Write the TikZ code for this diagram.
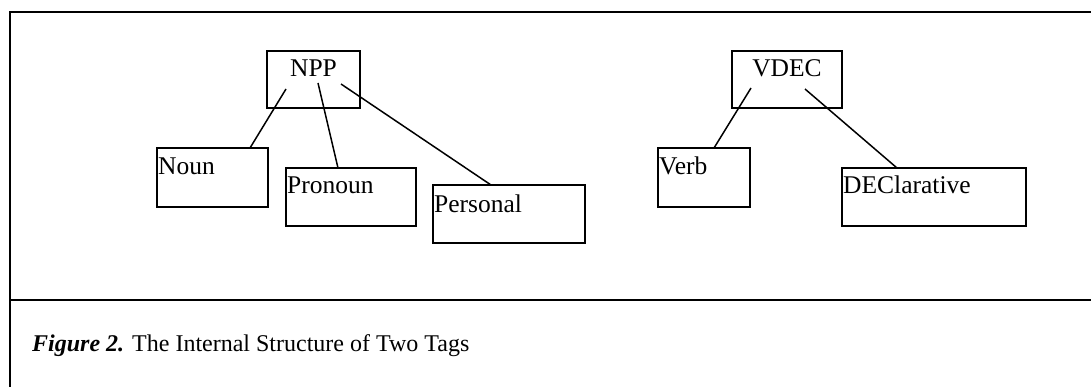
\documentclass[tikz,border=0pt]{standalone}
\usepackage{fontspec}
\setmainfont{Liberation Serif}
\usetikzlibrary{calc}
\begin{document}
\begin{tikzpicture}[x=1pt,y=-1pt,
  tagbox/.style={draw, line width=1.8pt, inner sep=0pt, outer sep=0pt, anchor=north west},
  taglbl/.style={inner sep=0pt, font=\fontsize{25.5}{30}\selectfont},
  caplbl/.style={inner sep=0pt, font=\fontsize{24}{29}\selectfont},
  link/.style={line width=1.5pt},
  frameline/.style={line width=2pt}]
\useasboundingbox (0,0) rectangle (1091,387);
% frame
\coordinate (ftl) at (10,12);
\coordinate (ftr) at (1091,12);
\coordinate (fbl) at (10,387);
\coordinate (fml) at (10,300);
\coordinate (fmr) at (1091,300);
\draw[frameline] (fbl) -- (ftl) -- (ftr);
\draw[frameline] (fml) -- (fmr);
% boxes
\node[tagbox, minimum width=93, minimum height=57] (npp) at (267,51) {};
\node[tagbox, minimum width=111, minimum height=59] (noun) at (157,148) {};
\node[tagbox, minimum width=130, minimum height=58] (pron) at (286,168) {};
\node[tagbox, minimum width=152, minimum height=58] (pers) at (433,185) {};
\node[tagbox, minimum width=110, minimum height=57] (vdec) at (732,51) {};
\node[tagbox, minimum width=92, minimum height=59] (verb) at (658,148) {};
\node[tagbox, minimum width=184, minimum height=58] (decl) at (842,168) {};
% labels
\node[taglbl, anchor=base] (nppl) at ($(npp.north)+(0,26)$) {NPP};
\node[taglbl, anchor=base west] (nounl) at ($(noun.north west)+(1,27)$) {Noun};
\node[taglbl, anchor=base west] (pronl) at ($(pron.north west)+(1,26)$) {Pronoun};
\node[taglbl, anchor=base west] (persl) at ($(pers.north west)+(1,28)$) {Personal};
\node[taglbl, anchor=base] (vdecl) at ($(vdec.north)+(0,26)$) {VDEC};
\node[taglbl, anchor=base west] (verbl) at ($(verb.north west)+(1,27)$) {Verb};
\node[taglbl, anchor=base west] (decll) at ($(decl.north west)+(1,26)$) {DEClarative};
% connectors
\draw[link] ($(npp.north west)+(19,38)$) -- ($(noun.north west)+(93,0)$);
\draw[link] ($(npp.north west)+(51,32)$) -- ($(pron.north west)+(52,0)$);
\draw[link] ($(npp.north west)+(74,33)$) -- ($(pers.north west)+(58,0)$);
\draw[link] ($(vdec.north west)+(19,37)$) -- ($(verb.north west)+(56,0)$);
\draw[link] ($(vdec.north west)+(73,38)$) -- ($(decl.north west)+(55,0)$);
% caption
\node[caplbl, anchor=base west] (cap) at (32,351) {\textbf{\textit{Figure 2.}} The Internal Structure of Two Tags};
\end{tikzpicture}
\end{document}
